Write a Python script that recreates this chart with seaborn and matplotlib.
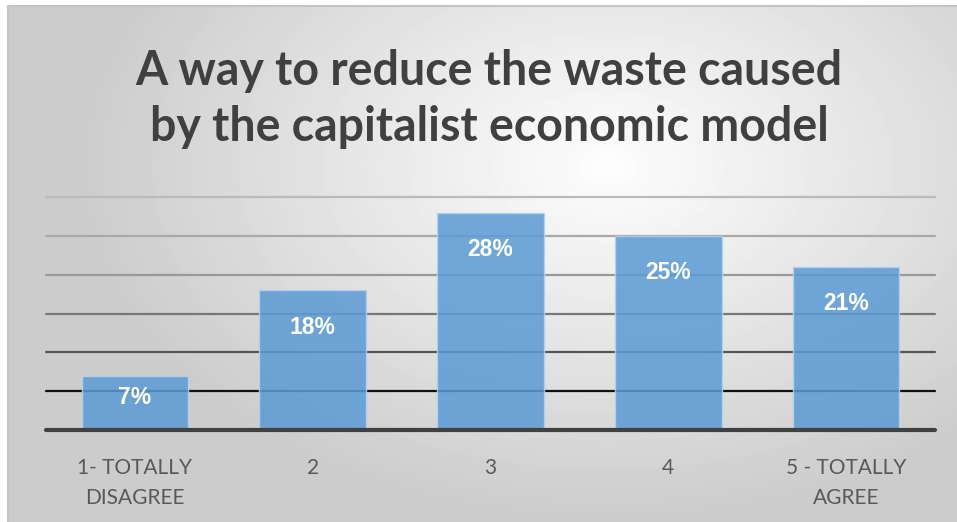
import numpy as np
import matplotlib
matplotlib.use("Agg")
import matplotlib.pyplot as plt
import seaborn as sns
import pandas as pd

# Survey answers on a 1-5 agreement scale
categories = ["1- TOTALLY\nDISAGREE", "2", "3", "4", "5 - TOTALLY\nAGREE"]
shares = [7, 18, 28, 25, 21]
title = "A way to reduce the waste caused\nby the capitalist economic model"
grid_levels = [5, 10, 15, 20, 25, 30]

sns.set_theme(style="white")
plt.rcParams["font.family"] = ["Lato", "DejaVu Sans"]

W, H = 957, 522
fig = plt.figure(figsize=(W / 100, H / 100), dpi=100)
fig.patch.set_facecolor("white")

# Soft radial backdrop of the chart panel
bg = fig.add_axes([8 / W, 0, (W - 8) / W, (H - 6) / H])
yy, xx = np.mgrid[0:H - 6, 0:W - 8]
cx, cy = 600, 160
d = np.sqrt(((xx - cx) / 900.0) ** 2 + ((yy - cy) / 600.0) ** 2)
shade = np.clip(0.995 - 0.33 * d, 0.80, 1.0)
bg.imshow(shade, cmap="gray", vmin=0, vmax=1, aspect="auto",
          extent=[0, 1, 0, 1], origin="upper", interpolation="bilinear")
bg.set_xlim(0, 1)
bg.set_ylim(0, 1)
bg.set_xticks([])
bg.set_yticks([])
for side in ["top", "right", "bottom"]:
    bg.spines[side].set_visible(False)
bg.spines["left"].set_color("#c4c4c4")
bg.spines["left"].set_linewidth(1.5)
fig.add_artist(plt.Line2D([8 / W, 1], [1 - 6 / H, 1 - 6 / H],
                          transform=fig.transFigure, color="#c4c4c4", lw=1.5))

# Plot area
left, right, base, top = 46, 935, 430, 197
ax = fig.add_axes([left / W, (H - base) / H, (right - left) / W, (base - top) / H])
ax.patch.set_alpha(0)
ax.set_ylim(0, 30)

grid_colors = ["#111111", "#555555", "#777777", "#999999", "#a9a9a9", "#bababa"]
for lvl, col in zip(grid_levels, grid_colors):
    ax.axhline(lvl, color=col, lw=1.6, zorder=1, clip_on=False)

df = pd.DataFrame({"answer": categories, "share": shares})
sns.barplot(data=df, x="answer", y="share", ax=ax, color="#5b9bd5",
            alpha=0.86, width=0.6, edgecolor="#b5d3ef", linewidth=1.0,
            saturation=1, zorder=2)

ax.axhline(0, color="#404040", lw=3.0, zorder=4, clip_on=False)

# Value labels just inside the top of each bar
px_per_unit = (base - top) / 30.0
for i, v in enumerate(shares):
    h_px = v * px_per_unit
    off = min(37, 0.4 * h_px) / px_per_unit
    ax.text(i, v - off, f"{v}%", ha="center", va="center", color="white",
            fontsize=16.5, fontweight="bold", family=["Liberation Sans", "DejaVu Sans"],
            zorder=5)

ax.set_xlim(-0.5, 4.5)
ax.set_xlabel("")
ax.set_ylabel("")
ax.set_yticks([])
ax.tick_params(axis="x", length=0, pad=20)
for lab in ax.get_xticklabels():
    lab.set_fontsize(15)
    lab.set_color("#595959")
    lab.set_linespacing(1.64)
for s in ax.spines.values():
    s.set_visible(False)

fig.text(489 / W, 1 - 99 / H, title, ha="center", va="center", fontsize=33.5,
         fontweight="bold", color="#404040", linespacing=1.35)

fig.savefig("out.png", dpi=100)
